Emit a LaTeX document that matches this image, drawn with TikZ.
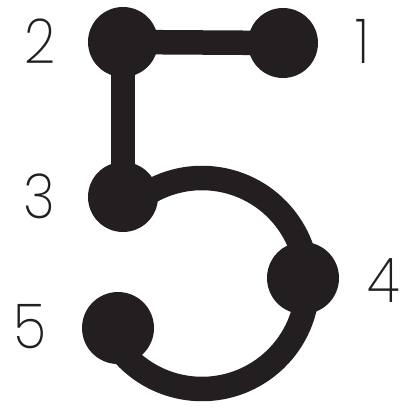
\documentclass[tikz,border=0pt]{standalone}
\usepackage{fontspec}
\newfontfamily\numfont{Poppins ExtraLight}
\definecolor{ink}{HTML}{231F20}
\begin{document}
\begin{tikzpicture}[x=1pt,y=-1pt,
  dot/.style={circle,fill=ink,inner sep=0pt,minimum size=70pt},
  bar/.style={draw=ink,line width=24.5pt},
  num/.style={inner sep=0pt,text=ink,xscale=0.88,font=\numfont\fontsize{62}{62}\selectfont}]
\useasboundingbox (0,0) rectangle (401,407);
\coordinate (ctr) at (202,283.5);
\coordinate (d1) at (283,43);
\coordinate (d2) at (123,42);
\coordinate (d3) at (123,197);
\coordinate (d4) at (303,278);
\coordinate (d5) at (118,328);
\draw[bar] (d2) -- (d1);
\draw[bar] (d2) -- (d3);
\draw[bar] (ctr) ++(128:105.5pt) coordinate (as) arc[start angle=128,end angle=-148,radius=105.5pt] coordinate (ae);
\node[dot] (n1) at (d1) {};
\node[dot] (n2) at (d2) {};
\node[dot] (n3) at (d3) {};
\node[dot,minimum size=72pt] (n4) at (d4) {};
\node[dot,minimum size=72pt] (n5) at (d5) {};
\node[num] (l2) at (40,41.5) {2};
\node[num] (l1) at (363,41) {1};
\node[num] (l3) at (39,196) {3};
\node[num] (l4) at (384,281) {4};
\node[num] (l5) at (30,327) {5};
\end{tikzpicture}
\end{document}
